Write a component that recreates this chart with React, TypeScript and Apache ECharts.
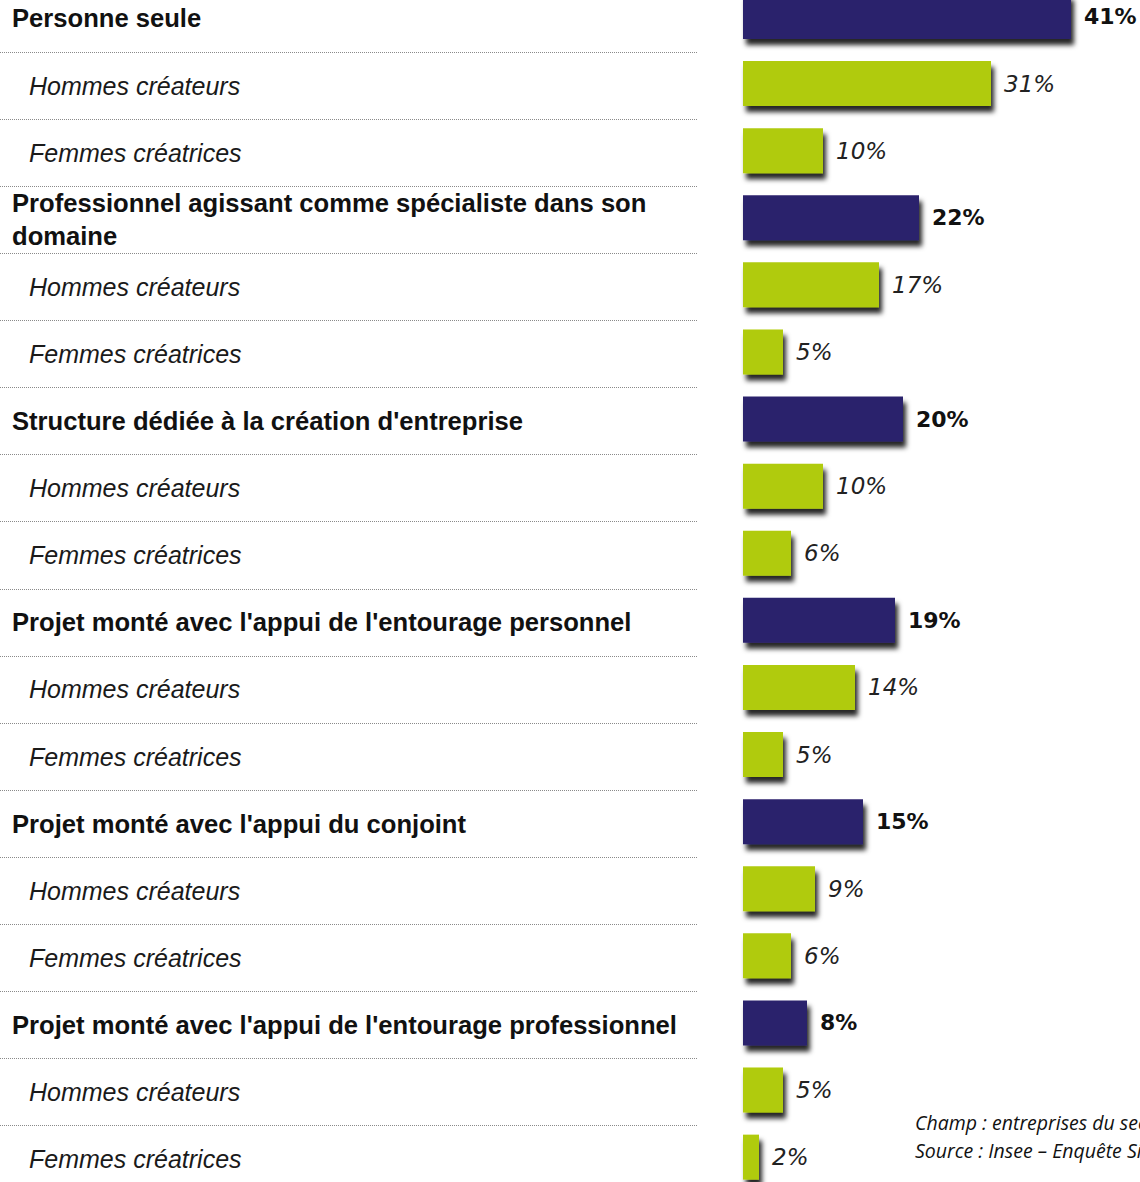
import React, { useEffect, useRef } from "react";
import * as echarts from "echarts";

const groups = [
  "Personne seule",
  "Professionnel agissant comme spécialiste dans son\ndomaine",
  "Structure dédiée à la création d'entreprise",
  "Projet monté avec l'appui de l'entourage personnel",
  "Projet monté avec l'appui du conjoint",
  "Projet monté avec l'appui de l'entourage professionnel",
];
const totals = [41, 22, 20, 19, 15, 8];
const men = [31, 17, 10, 14, 9, 5];
const women = [10, 5, 6, 5, 6, 2];
const subLabels = ["Hommes créateurs", "Femmes créatrices"];
const footnotes = [
  "Champ : entreprises du secteur marchand non agricole créées au premier semestre 2010",
  "Source : Insee – Enquête Sine 2010",
];

const NAVY = "#2b206c";
const GREEN = "#b0cb0c";
const PITCH = 67.1;
const LABEL_FONT = "'Liberation Sans', Arial, sans-serif";
const VALUE_FONT = "'DejaVu Sans', Verdana, sans-serif";

export default function App() {
  const ref = useRef<HTMLDivElement>(null);
  useEffect(() => {
    document.body.style.margin = "0";
    const chart = echarts.init(ref.current!, null, { renderer: "svg" });
    const rows: { label: string; value: number; main: boolean }[] = [];
    groups.forEach((g, i) => {
      rows.push({ label: g, value: totals[i], main: true });
      rows.push({ label: subLabels[0], value: men[i], main: false });
      rows.push({ label: subLabels[1], value: women[i], main: false });
    });
    const cats = rows.map((r) => r.label);
    const gridTop = 52 - PITCH;
    const gridH = PITCH * rows.length;

    chart.setOption({
      animation: false,
      backgroundColor: "#ffffff",
      grid: [
        { left: 0, width: 698, top: gridTop, height: gridH, outerBoundsMode: "none", containLabel: false },
        { left: 743, width: 400, top: gridTop - 2, height: gridH, outerBoundsMode: "none", containLabel: false },
      ],
      xAxis: [
        { gridIndex: 0, type: "value", show: false, min: 0, max: 1 },
        { gridIndex: 1, type: "value", show: false, min: 0, max: 50 },
      ],
      yAxis: [
        {
          gridIndex: 0,
          type: "category",
          inverse: true,
          data: cats,
          axisLine: { show: false },
          axisTick: { show: false },
          splitLine: {
            show: true,
            lineStyle: { type: "dotted", color: "#8a8a8a", width: 1 },
          },
          axisLabel: {
            inside: true,
            margin: 12,
            formatter: (_v: string, idx: number) =>
              rows[idx].main ? `{b|${rows[idx].label}}` : `{i|${rows[idx].label}}`,
            rich: {
              b: {
                fontFamily: LABEL_FONT,
                fontWeight: "bold",
                fontSize: 25.6,
                color: "#111111",
                lineHeight: 33,
              },
              i: {
                fontFamily: LABEL_FONT,
                fontStyle: "italic",
                fontSize: 25,
                color: "#1a1a1a",
                padding: [0, 0, 0, 17],
              },
            },
          },
        },
        {
          gridIndex: 1,
          type: "category",
          inverse: true,
          data: cats,
          show: false,
        },
      ],
      series: [
        {
          type: "bar",
          xAxisIndex: 1,
          yAxisIndex: 1,
          barWidth: 45,
          data: rows.map((r) => ({
            value: r.value,
            itemStyle: {
              color: r.main ? NAVY : GREEN,
              shadowColor: "rgba(0,0,0,0.85)",
              shadowBlur: 5,
              shadowOffsetX: 3,
              shadowOffsetY: 6,
            },
            label: {
              show: true,
              position: "right",
              distance: 13,
              formatter: "{c}%",
              fontFamily: VALUE_FONT,
              fontSize: r.main ? 22 : 23,
              fontWeight: r.main ? "bold" : "normal",
              fontStyle: r.main ? "normal" : "italic",
              color: r.main ? "#111111" : "#222222",
            },
          })),
        },
      ],
      graphic: [
        {
          type: "text",
          left: 915,
          top: 1108,
          style: {
            text: footnotes.join("\n"),
            font: "italic 19.5px 'Open Sans', sans-serif",
            lineHeight: 28,
            fill: "#111111",
          },
        },
      ],
    });
    return () => chart.dispose();
  }, []);
  return <div ref={ref} style={{ width: 1140, height: 1182 }} />;
}
